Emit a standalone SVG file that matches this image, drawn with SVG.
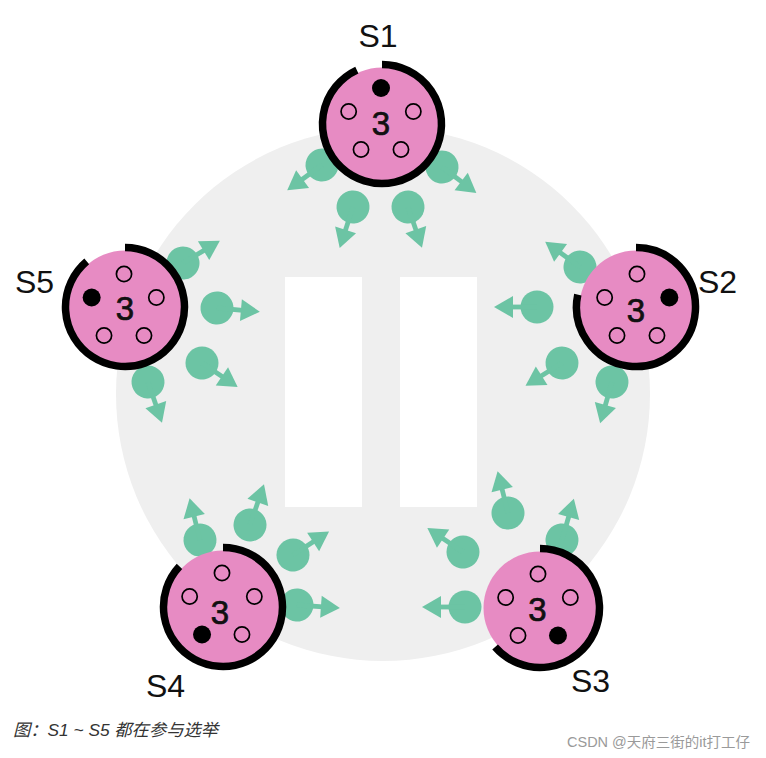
<svg xmlns="http://www.w3.org/2000/svg" xmlns:xlink="http://www.w3.org/1999/xlink" width="766" height="758" viewBox="0 0 766 758">
  <defs>
    <style>
      .pink { fill: #e78bc3; }
      .ring { fill: none; stroke: #000; stroke-width: 7.5; stroke-linecap: butt; }
      .hole { fill: #e78bc3; stroke: #000; stroke-width: 1.7; }
      .dot { fill: #000; }
      .num { font-family: "Liberation Sans", Arial, sans-serif; font-size: 33px; fill: #111; stroke: #111; stroke-width: 0.7; text-anchor: middle; }
      .lbl { font-family: "Liberation Sans", Arial, sans-serif; font-size: 32px; fill: #111; }
      .vote { fill: #6cc4a4; }
    </style>
    <g id="ballot" class="vote">
      <circle cx="0" cy="0" r="16.5"/>
      <rect x="0" y="-2.4" width="26" height="4.8"/>
      <polygon points="43,0 24,-11 24,11"/>
    </g>
  </defs>

  <rect width="766" height="758" fill="#ffffff"/>

  <g id="background">
    <circle cx="383" cy="394" r="267" fill="#efefef"/>
    <rect x="285" y="277" width="77" height="230" fill="#ffffff"/>
    <rect x="400" y="277" width="77" height="230" fill="#ffffff"/>
  </g>

  <g id="connectors">
    <!-- S1 votes -->
    <use xlink:href="#ballot" href="#ballot" transform="translate(322,165) rotate(144)"/>
    <use xlink:href="#ballot" href="#ballot" transform="translate(353,207) rotate(108)"/>
    <use xlink:href="#ballot" href="#ballot" transform="translate(408,207) rotate(71)"/>
    <use xlink:href="#ballot" href="#ballot" transform="translate(442,167) rotate(37)"/>
    <!-- S2 votes -->
    <use xlink:href="#ballot" href="#ballot" transform="translate(580,267) rotate(216)"/>
    <use xlink:href="#ballot" href="#ballot" transform="translate(537,307) rotate(180)"/>
    <use xlink:href="#ballot" href="#ballot" transform="translate(562,363) rotate(148)"/>
    <use xlink:href="#ballot" href="#ballot" transform="translate(612,382) rotate(106)"/>
    <!-- S5 votes -->
    <use xlink:href="#ballot" href="#ballot" transform="translate(183,263) rotate(-31)"/>
    <use xlink:href="#ballot" href="#ballot" transform="translate(217,308) rotate(5)"/>
    <use xlink:href="#ballot" href="#ballot" transform="translate(202,363) rotate(34)"/>
    <use xlink:href="#ballot" href="#ballot" transform="translate(148,382) rotate(71)"/>
    <!-- S4 votes -->
    <use xlink:href="#ballot" href="#ballot" transform="translate(200,540) rotate(-104)"/>
    <use xlink:href="#ballot" href="#ballot" transform="translate(250,525) rotate(-71)"/>
    <use xlink:href="#ballot" href="#ballot" transform="translate(293,555) rotate(-33)"/>
    <use xlink:href="#ballot" href="#ballot" transform="translate(297,605) rotate(4)"/>
    <!-- S3 votes -->
    <use xlink:href="#ballot" href="#ballot" transform="translate(508,513) rotate(-104)"/>
    <use xlink:href="#ballot" href="#ballot" transform="translate(562,540) rotate(-74)"/>
    <use xlink:href="#ballot" href="#ballot" transform="translate(463,552) rotate(-146)"/>
    <use xlink:href="#ballot" href="#ballot" transform="translate(465,607) rotate(180)"/>
  </g>

  <g id="S1">
    <circle class="pink" cx="382" cy="124" r="56.5"/>
    <path class="ring" d="M382,64.5 A59.5,59.5 0 1 1 356.85,70.07"/>
    <circle class="dot" cx="381" cy="88" r="9"/>
    <circle class="hole" cx="413.34" cy="111.49" r="7.6"/>
    <circle class="hole" cx="400.98" cy="149.51" r="7.6"/>
    <circle class="hole" cx="361.02" cy="149.51" r="7.6"/>
    <circle class="hole" cx="348.66" cy="111.49" r="7.6"/>
    <text class="num" x="381" y="135">3</text>
    <text class="lbl" x="378" y="47" text-anchor="middle">S1</text>
  </g>

  <g id="S2">
    <circle class="pink" cx="636" cy="307" r="56.5"/>
    <path class="ring" d="M636,247.5 A59.5,59.5 0 1 1 577.8,294.63"/>
    <circle class="hole" cx="637" cy="274" r="7.6"/>
    <circle class="dot" cx="669.34" cy="297.49" r="9"/>
    <circle class="hole" cx="656.98" cy="335.51" r="7.6"/>
    <circle class="hole" cx="617.02" cy="335.51" r="7.6"/>
    <circle class="hole" cx="604.66" cy="297.49" r="7.6"/>
    <text class="num" x="636" y="321.5">3</text>
    <text class="lbl" x="698" y="293">S2</text>
  </g>

  <g id="S3">
    <circle class="pink" cx="540" cy="608" r="56.5"/>
    <path class="ring" d="M540,548.5 A59.5,59.5 0 1 1 495.1,647.04"/>
    <circle class="hole" cx="538" cy="574" r="7.6"/>
    <circle class="hole" cx="570.34" cy="597.49" r="7.6"/>
    <circle class="dot" cx="557.98" cy="635.51" r="9"/>
    <circle class="hole" cx="518.02" cy="635.51" r="7.6"/>
    <circle class="hole" cx="505.66" cy="597.49" r="7.6"/>
    <text class="num" x="537.5" y="620.5">3</text>
    <text class="lbl" x="571" y="692">S3</text>
  </g>

  <g id="S4">
    <circle class="pink" cx="223" cy="607" r="56.5"/>
    <path class="ring" d="M223,547.5 A59.5,59.5 0 1 1 179.48,566.42"/>
    <circle class="hole" cx="222" cy="573" r="7.6"/>
    <circle class="hole" cx="254.34" cy="596.49" r="7.6"/>
    <circle class="hole" cx="241.98" cy="634.51" r="7.6"/>
    <circle class="dot" cx="202.02" cy="634.51" r="9"/>
    <circle class="hole" cx="189.66" cy="596.49" r="7.6"/>
    <text class="num" x="220" y="624">3</text>
    <text class="lbl" x="146" y="697">S4</text>
  </g>

  <g id="S5">
    <circle class="pink" cx="125" cy="307" r="56.5"/>
    <path class="ring" d="M125,247.5 A59.5,59.5 0 1 1 86.75,261.42"/>
    <circle class="hole" cx="124" cy="274" r="7.6"/>
    <circle class="hole" cx="156.34" cy="297.49" r="7.6"/>
    <circle class="hole" cx="143.98" cy="335.51" r="7.6"/>
    <circle class="hole" cx="104.02" cy="335.51" r="7.6"/>
    <circle class="dot" cx="91.66" cy="297.49" r="9"/>
    <text class="num" x="125" y="319.5">3</text>
    <text class="lbl" x="15" y="293">S5</text>
  </g>

  <g id="caption">
    <text x="13" y="736" font-family="'Liberation Sans', 'Noto Sans CJK SC', sans-serif" font-size="17" font-style="italic" fill="#333" textLength="205" lengthAdjust="spacingAndGlyphs">图：S1 ~ S5 都在参与选举</text>
    <text x="567" y="747" font-family="'Liberation Sans', 'Noto Sans CJK SC', sans-serif" font-size="14" fill="#9a9a9a" textLength="183" lengthAdjust="spacingAndGlyphs">CSDN @天府三街的it打工仔</text>
  </g>
</svg>
